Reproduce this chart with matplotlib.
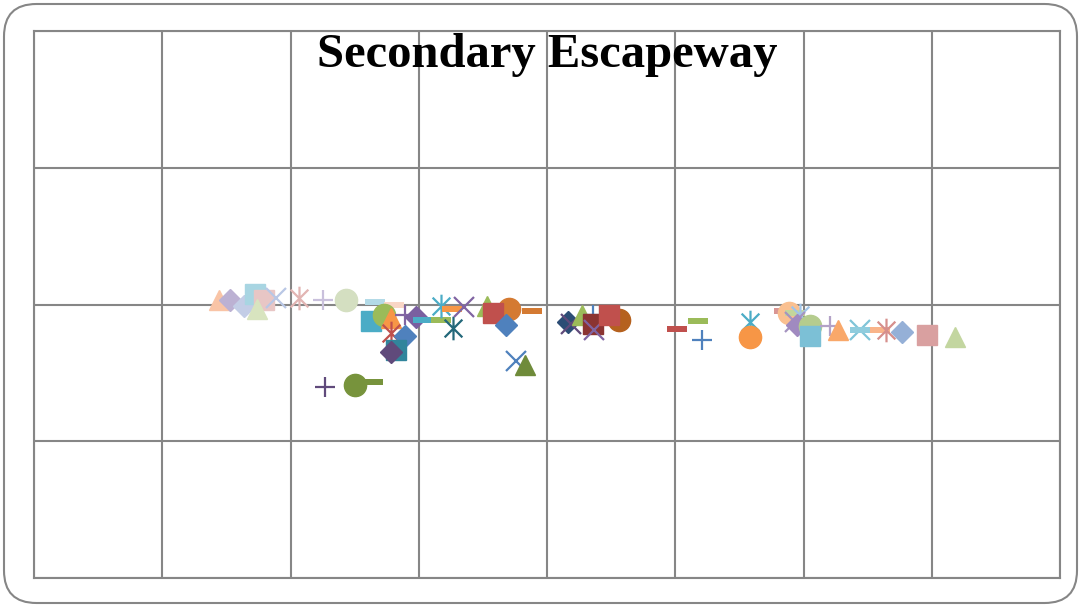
import numpy as np
import matplotlib
matplotlib.use("Agg")
import matplotlib.pyplot as plt
from matplotlib.path import Path
from matplotlib.patches import FancyBboxPatch

# datos: una serie por punto (estilo Excel)
xs = [1.44, 1.53, 1.64, 1.72, 1.79, 1.74, 1.89, 2.07, 2.25, 2.43, 2.66, 2.81,
      2.63, 2.73, 2.78, 2.78, 2.89, 2.98, 3.03, 2.89, 2.82, 2.78, 3.17, 3.17,
      3.27, 3.26, 3.35, 3.53, 3.70, 3.58, 3.68, 3.88, 3.76, 3.83, 2.27, 2.50,
      2.64, 4.16, 4.19, 4.27, 4.36, 4.36, 4.37, 4.56, 4.48, 5.01, 5.18, 5.21,
      5.58, 5.58, 5.85, 5.89, 5.93, 5.97, 5.93, 5.95, 6.05, 6.05, 6.21, 6.27,
      6.44, 6.44, 6.60, 6.64, 6.77, 6.96, 7.18]
ys = [2.03, 2.03, 1.99, 2.08, 2.03, 1.97, 2.05, 2.05, 2.03, 2.03, 2.02, 2.00,
      1.88, 1.92, 1.90, 1.79, 1.92, 1.91, 1.89, 1.77, 1.67, 1.65, 1.89, 1.99,
      1.83, 1.97, 1.98, 1.99, 1.97, 1.94, 1.85, 1.95, 1.59, 1.56, 1.40, 1.41,
      1.43, 1.87, 1.86, 1.92, 1.92, 1.86, 1.81, 1.89, 1.92, 1.82, 1.88, 1.74,
      1.87, 1.76, 1.95, 1.94, 1.94, 1.92, 1.87, 1.85, 1.84, 1.77, 1.84, 1.81,
      1.81, 1.81, 1.81, 1.81, 1.80, 1.78, 1.76]
markers = ['tri', 'dia', 'dia', 'sq', 'sq', 'tri', 'x', 'star', 'plus', 'circ', 'dash', 'dash',
           'sq', 'circ', 'tri', 'star', 'plus', 'dia', 'dash', 'dia', 'sq', 'dia', 'dash', 'star',
           'star', 'dash', 'x', 'tri', 'circ', 'sq', 'dia', 'dash', 'x', 'tri', 'plus', 'circ',
           'dash', 'dia', 'x', 'tri', 'plus', 'sq', 'x', 'circ', 'sq', 'dash', 'dash', 'plus',
           'star', 'circ', 'dash', 'circ', 'dash', 'star', 'x', 'dia', 'circ', 'sq', 'plus', 'tri',
           'x', 'dash', 'dash', 'star', 'dia', 'sq', 'tri']
colors = ['#F9C4A6', '#BCB1D3', '#C3CDE6', '#A8D5E2', '#E8C6C5', '#D8E4BF', '#B9C7E5', '#E2B5B3',
          '#C9C0DC', '#D4DFC1', '#B3DAE7', '#F9D6C6',
          '#4BACC6', '#9BBB59', '#F79646', '#C0504D', '#8064A2', '#7A5FA0', '#4BACC6', '#4F81BD',
          '#31859C', '#604A7B', '#9BBB59', '#4BACC6', '#23687A', '#F79646', '#8064A2', '#9BBB59',
          '#D47A32', '#C0504D', '#4F81BD', '#D47A32', '#4F81BD', '#6F8B3A', '#604A7B', '#77933C',
          '#77933C', '#2C4D75', '#604A7B', '#9BBB59', '#4F81BD', '#8B3432', '#8064A2', '#B5611E',
          '#C0504D', '#C0504D', '#9BBB59', '#4F81BD', '#4BACC6', '#F79646',
          '#D99694', '#FAC090', '#C3D69B', '#9FC4E8', '#A594C0', '#A08AC0', '#B5CC8E', '#7CC0D6',
          '#B3A2C7', '#F9A86A', '#7FC4D8', '#8FCCDD', '#F9B48A', '#D68F8C', '#95B0D7', '#D9A0A0',
          '#C3D6A0']

# marcadores personalizados
dash_path = Path([(-1, -0.3), (1, -0.3), (1, 0.3), (-1, 0.3), (-1, -0.3)],
                 [Path.MOVETO, Path.LINETO, Path.LINETO, Path.LINETO, Path.CLOSEPOLY])
star_path = Path([(0, -1), (0, 1), (-0.75, -0.75), (0.75, 0.75), (-0.75, 0.75), (0.75, -0.75)],
                 [Path.MOVETO, Path.LINETO, Path.MOVETO, Path.LINETO, Path.MOVETO, Path.LINETO])

estilos = {
    'tri': dict(marker='^', ms=14),
    'dia': dict(marker='D', ms=11),
    'sq': dict(marker='s', ms=14),
    'circ': dict(marker='o', ms=16),
    'x': dict(marker='x', ms=14, mew=1.6),
    'plus': dict(marker='+', ms=15, mew=1.6),
    'star': dict(marker=star_path, ms=17, mew=1.6),
    'dash': dict(marker=dash_path, ms=15, mew=0),
}

fig = plt.figure(figsize=(10.81, 6.06), dpi=100)
W, H = 1081, 606
ax = fig.add_axes([34 / W, (H - 578) / H, (1060 - 34) / W, (578 - 31) / H])

for x, y, m, c in zip(xs, ys, markers, colors):
    ax.plot([x], [y], linestyle='none', color=c, **estilos[m])

ax.set_xlim(0, 8)
ax.set_ylim(0, 4)
ax.set_xticks(np.arange(0, 9, 1))
ax.set_yticks(np.arange(0, 5, 1))
ax.tick_params(length=0, labelbottom=False, labelleft=False)
ax.grid(True, color='#868686', linewidth=1.5)
ax.set_axisbelow(True)
for s in ax.spines.values():
    s.set_color('#868686')
    s.set_linewidth(1.5)

ax.text(0.5, (578 - 67) / 547, 'Secondary Escapeway', transform=ax.transAxes, ha='center',
        va='baseline', fontsize=35, fontweight='bold', family=['Liberation Serif', 'DejaVu Serif'])

# borde redondeado
borde = FancyBboxPatch((4 / W, 3 / H), (1077 - 4) / W, (602 - 3) / H,
                       boxstyle='round,pad=0,rounding_size=0.03',
                       transform=fig.transFigure, fill=False, edgecolor='#868686',
                       linewidth=1.5, mutation_aspect=W / H)
fig.patches.append(borde)

fig.savefig('out.png', dpi=100)
